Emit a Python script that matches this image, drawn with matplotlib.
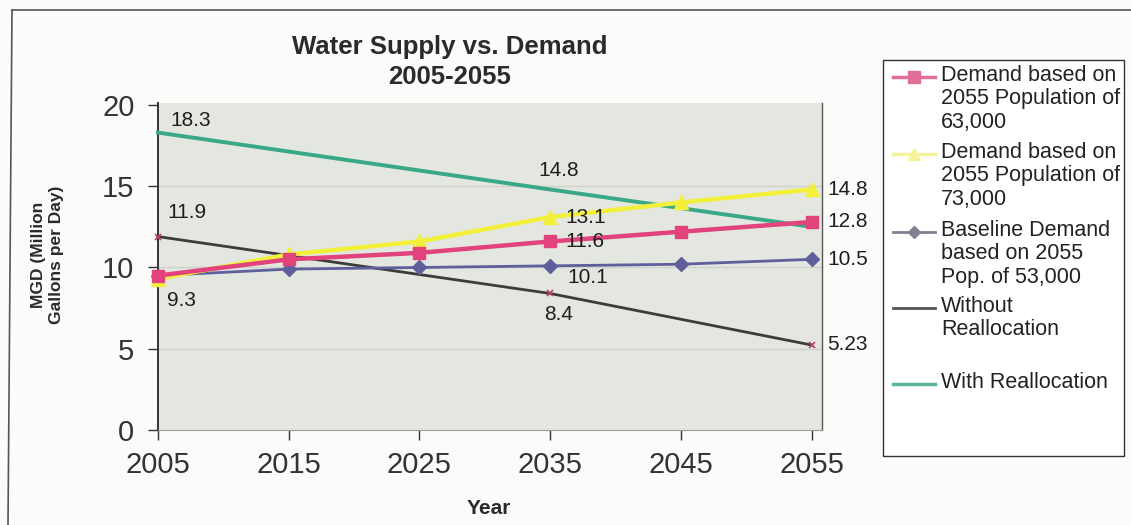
import matplotlib
matplotlib.use("Agg")
import matplotlib.pyplot as plt
from matplotlib.lines import Line2D
from matplotlib.patches import Rectangle

plt.rcParams["font.family"] = ["Liberation Sans", "DejaVu Sans"]

# data
years = [2005, 2015, 2025, 2035, 2045, 2055]
demand_63k = [9.5, 10.5, 10.9, 11.6, 12.2, 12.8]
demand_73k = [9.3, 10.8, 11.6, 13.1, 14.0, 14.8]
baseline_53k = [9.5, 9.9, 10.0, 10.1, 10.2, 10.5]
supply_years = [2005, 2035, 2055]
without_realloc = [11.9, 8.4, 5.23]
with_realloc = [18.3, 14.8, 12.5]

legend_labels = [
    "Demand based on\n2055 Population of\n63,000",
    "Demand based on\n2055 Population of\n73,000",
    "Baseline Demand\nbased on 2055\nPop. of 53,000",
    "Without\nReallocation",
    "With Reallocation",
]

# colours
c_pink = "#e2437c"
c_yellow = "#f3f03c"
c_blue = "#5f5f9c"
c_black = "#3c3c3c"
c_green = "#3aa886"

W, H = 1131, 525
fig = plt.figure(figsize=(W / 100, H / 100), dpi=100)
fig.patch.set_facecolor("#fbfbf9")

def fx(px):
    return px / W

def fy(py):
    return 1 - py / H

ax = fig.add_axes([fx(158), fy(430), fx(822 - 158), (430 - 103) / H])
ax.set_facecolor("#e3e7e0")
ax.set_xlim(2005, 2055.8)
ax.set_ylim(0, 20.12)

for y in [5, 10, 15]:
    ax.axhline(y, color="#cfd2cc", lw=1.0, zorder=1)

ax.plot(supply_years, with_realloc, color=c_green, lw=2.8, zorder=3, clip_on=False)
ax.plot(supply_years, without_realloc, color=c_black, lw=2.0, zorder=3, clip_on=False,
        marker="x", ms=5, mec="#c04060", mew=1.2)
ax.plot(years, baseline_53k, color=c_blue, lw=2.0, marker="D", ms=7, zorder=4, clip_on=False)
ax.plot(years, demand_73k, color=c_yellow, lw=3.2, marker="^", ms=10, zorder=5, clip_on=False)
ax.plot(years, demand_63k, color=c_pink, lw=3.2, marker="s", ms=9, zorder=6, clip_on=False)

# data labels
lab = dict(textcoords="offset pixels", fontsize=15, color="#1e1e1e", zorder=8)
ax.annotate("18.3", (years[0], with_realloc[0]), xytext=(12, 12), ha="left", va="center", **lab)
ax.annotate("11.9", (years[0], without_realloc[0]), xytext=(9, 24), ha="left", va="center", **lab)
ax.annotate("9.3", (years[0], demand_73k[0]), xytext=(9, -22), ha="left", va="center", **lab)
ax.annotate("14.8", (supply_years[1], with_realloc[1]), xytext=(9, 19), ha="center", va="center", **lab)
ax.annotate("13.1", (years[3], demand_73k[3]), xytext=(15, 0), ha="left", va="center", **lab)
ax.annotate("11.6", (years[3], demand_63k[3]), xytext=(15, 0), ha="left", va="center", **lab)
ax.annotate("10.1", (years[3], baseline_53k[3]), xytext=(17, -12), ha="left", va="center", **lab)
ax.annotate("8.4", (supply_years[1], without_realloc[1]), xytext=(8, -21), ha="center", va="center", **lab)
ax.annotate("14.8", (years[5], demand_73k[5]), xytext=(16, 0), ha="left", va="center", **lab)
ax.annotate("12.8", (years[5], demand_63k[5]), xytext=(16, 0), ha="left", va="center", **lab)
ax.annotate("10.5", (years[5], baseline_53k[5]), xytext=(16, 0), ha="left", va="center", **lab)
ax.annotate("5.23", (supply_years[2], without_realloc[2]), xytext=(16, 0), ha="left", va="center", **lab)

# axes styling
ax.set_xticks(years)
ax.set_yticks([0, 5, 10, 15, 20])
ax.tick_params(axis="both", direction="out", labelsize=21, colors="#333333", length=7, width=1)
ax.tick_params(axis="y", pad=10)
ax.tick_params(axis="x", pad=8)
ax.spines["top"].set_visible(False)
ax.spines["left"].set_color("#333333")
ax.spines["left"].set_linewidth(1.4)
ax.spines["bottom"].set_color("#9a9a9a")
ax.spines["right"].set_color("#555555")
ax.spines["right"].set_linewidth(1.0)

fig.text(fx(450), fy(62), "Water Supply vs. Demand\n2005-2055", ha="center", va="center",
         fontsize=18.5, fontweight="bold", color="#2a2a2a", linespacing=1.3)
fig.text(fx(48), fy(255), "MGD (Million\nGallons per Day)", ha="center", va="center",
         rotation=90, fontsize=12.5, fontweight="bold", color="#2a2a2a", linespacing=1.25)
fig.text(fx(489), fy(508), "Year", ha="center", va="center", fontsize=15,
         fontweight="bold", color="#2a2a2a")

# legend drawn by hand so handle sits on first text line
fig.add_artist(Rectangle((fx(883), fy(456)), fx(1124 - 883), (456 - 60) / H,
                         transform=fig.transFigure, fill=True, fc="white",
                         ec="#333333", lw=1.0))
handles = [
    dict(color="#e0709a", marker="s", ms=8, lw=2.5),
    dict(color="#f6f49a", marker="^", ms=9, lw=2.5),
    dict(color="#808090", marker="D", ms=6, lw=2.0),
    dict(color="#555555", marker=None, ms=0, lw=2.0),
    dict(color="#5db89a", marker=None, ms=0, lw=2.5),
]
entry_y = [77, 154, 232, 308, 384]
for lbl, hd, ey in zip(legend_labels, handles, entry_y):
    fig.add_artist(Line2D([fx(893), fx(935)], [fy(ey), fy(ey)], transform=fig.transFigure,
                          color=hd["color"], lw=hd["lw"]))
    if hd["marker"]:
        fig.add_artist(Line2D([fx(914)], [fy(ey)], transform=fig.transFigure,
                              color=hd["color"], marker=hd["marker"], ms=hd["ms"], lw=0))
    fig.text(fx(941), fy(ey - 12), lbl, ha="left", va="top", fontsize=15.5,
             color="#222222", linespacing=1.15)

# outer frame from the scanned page
fig.add_artist(Line2D([fx(12), fx(1131)], [fy(10), fy(10)], transform=fig.transFigure,
                      color="#555555", lw=1.2))
fig.add_artist(Line2D([fx(12), fx(8)], [fy(10), fy(525)], transform=fig.transFigure,
                      color="#555555", lw=1.2))

fig.savefig("out.png", dpi=100, facecolor=fig.get_facecolor())
